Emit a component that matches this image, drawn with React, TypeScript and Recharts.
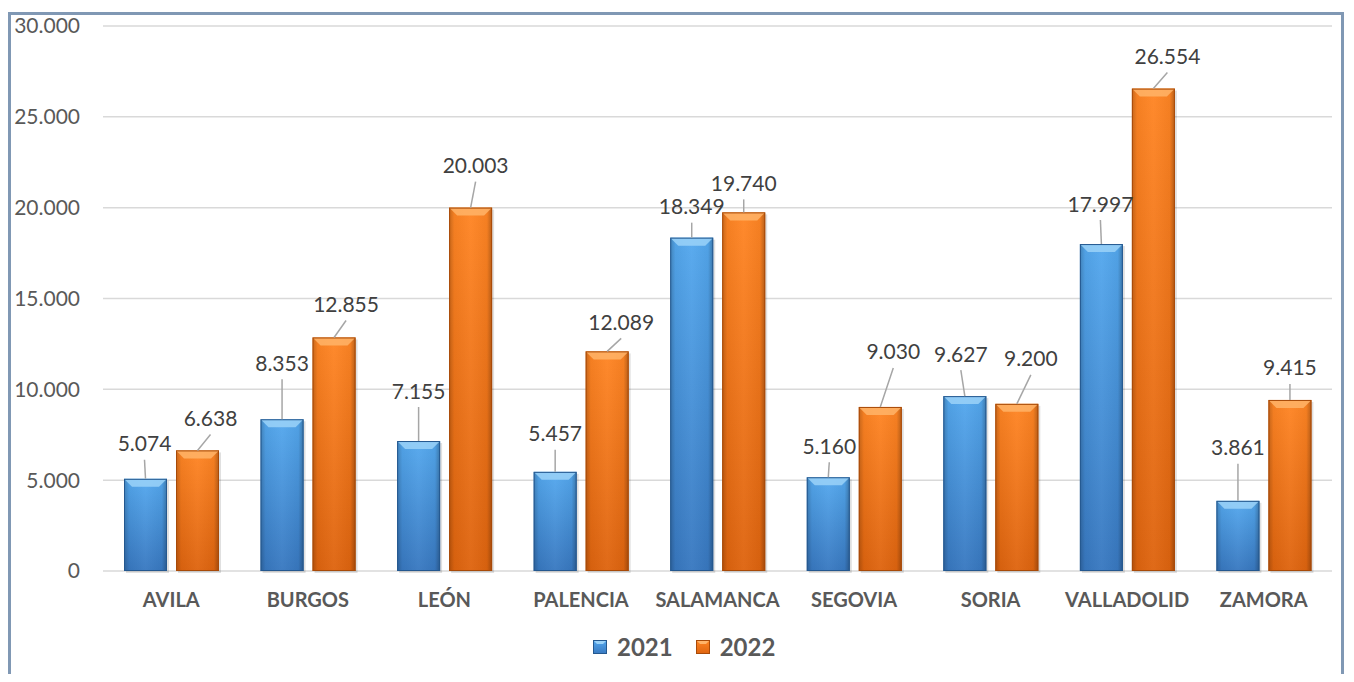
import { BarChart, Bar, XAxis, YAxis, CartesianGrid, LabelList } from "recharts";

const categories = ["AVILA", "BURGOS", "LEÓN", "PALENCIA", "SALAMANCA", "SEGOVIA", "SORIA", "VALLADOLID", "ZAMORA"];
const values2021 = [5074, 8353, 7155, 5457, 18349, 5160, 9627, 17997, 3861];
const values2022 = [6638, 12855, 20003, 12089, 19740, 9030, 9200, 26554, 9415];
const yTicks = [0, 5000, 10000, 15000, 20000, 25000, 30000];
const seriesNames = ["2021", "2022"];

// where Excel's dragged labels sit, relative to the top of each bar
const labelShift2021 = [[-1, -36], [0, -57], [0, -51], [0, -39], [0, -32], [1, -32], [-4, -43], [-1, -41], [0, -54]];
const labelShift2022 = [[13, -33], [12, -34], [5, -43], [14, -30], [0, -30], [13, -56], [14, -46], [14, -33], [0, -33]];

const data = categories.map((name, i) => ({
  name,
  v2021: values2021[i],
  v2022: values2022[i],
}));

const FONT = "Lato, 'Open Sans', sans-serif";

const fmt = (v: number) => String(v).replace(/\B(?=(\d{3})+(?!\d))/g, ".");

const palette: Record<string, { top: string; bottom: string; edge: string; bevel: string }> = {
  blue: { top: "#54a8ee", bottom: "#3878c0", edge: "#24588f", bevel: "#9bd2f8" },
  orange: { top: "#ff8524", bottom: "#de640f", edge: "#a84a08", bevel: "#ffb469" },
};

const BevelBar = (props: any) => {
  const { x, y, width, height, tone } = props;
  if (!height || height <= 0) return null;
  const c = palette[tone];
  const b = Math.min(8, height / 2);
  return (
    <g>
      <rect x={x + 2} y={y + 2} width={width} height={height} fill="#000" opacity={0.12} />
      <rect x={x} y={y} width={width} height={height} fill={`url(#v-${tone})`} />
      <rect x={x} y={y} width={width} height={height} fill="url(#edges)" />
      <polygon
        points={`${x},${y} ${x + width},${y} ${x + width - b},${y + b} ${x + b},${y + b}`}
        fill={c.bevel}
        opacity={0.85}
      />
      <rect x={x + 0.5} y={y + 0.5} width={width - 1} height={height - 1} fill="none" stroke={c.edge} strokeWidth={1} />
    </g>
  );
};

const makeLabel = (shifts: number[][]) => (props: any) => {
  const { x, y, width, value, index } = props;
  const bx = x + width / 2;
  const [dx, dy] = shifts[index];
  const tx = bx + dx;
  const ty = y + dy;
  return (
    <g>
      <line x1={tx} y1={ty + 17} x2={bx} y2={y} stroke="#a6a6a6" strokeWidth={1.5} />
      <text x={tx} y={ty} textAnchor="middle" dominantBaseline="central" fontFamily={FONT} fontSize={21} fill="#404040">
        {fmt(value)}
      </text>
    </g>
  );
};

const LegendSwatch = ({ tone }: { tone: string }) => {
  const c = palette[tone];
  return (
    <svg width={14} height={14} style={{ display: "block" }}>
      <defs>
        <linearGradient id={`lg-${tone}`} x1="0" y1="0" x2="0" y2="1">
          <stop offset="0" stopColor={c.top} />
          <stop offset="1" stopColor={c.bottom} />
        </linearGradient>
      </defs>
      <rect x={0} y={0} width={14} height={14} fill={`url(#lg-${tone})`} />
      <polygon points="0,0 14,0 10,4 4,4" fill={c.bevel} />
      <rect x={0.5} y={0.5} width={13} height={13} fill="none" stroke={c.edge} />
    </svg>
  );
};

export default function App() {
  return (
    <div style={{ position: "relative", width: 1338, height: 666, overflow: "hidden" }}>
      <style>{"html,body{overflow:hidden}"}</style>
      <div style={{ position: "absolute", left: 0, top: 0 }}>
        <BarChart
          width={1338}
          height={666}
          data={data}
          margin={{ top: 18, right: 14, left: 0, bottom: 0 }}
          barSize={43}
          barGap={9}
        >
          <defs>
            {Object.keys(palette).map((k) => (
              <linearGradient key={k} id={`v-${k}`} x1="0" y1="0" x2="0" y2="1">
                <stop offset="0" stopColor={palette[k].top} />
                <stop offset="1" stopColor={palette[k].bottom} />
              </linearGradient>
            ))}
            <linearGradient id="edges" x1="0" y1="0" x2="1" y2="0">
              <stop offset="0" stopColor="#000" stopOpacity={0.22} />
              <stop offset="0.12" stopColor="#000" stopOpacity={0.04} />
              <stop offset="0.5" stopColor="#fff" stopOpacity={0.04} />
              <stop offset="0.88" stopColor="#000" stopOpacity={0.04} />
              <stop offset="1" stopColor="#000" stopOpacity={0.28} />
            </linearGradient>
          </defs>
          <CartesianGrid vertical={false} stroke="#d9d9d9" strokeWidth={1.5} />
          <XAxis
            dataKey="name"
            axisLine={false}
            tickLine={false}
            tickSize={0}
            tickMargin={22}
            height={103}
            interval={0}
            tick={{ fontFamily: FONT, fontSize: 20, fontWeight: 700, fill: "#595959" }}
          />
          <YAxis
            domain={[0, 30000]}
            ticks={yTicks}
            axisLine={false}
            tickLine={false}
            tickSize={0}
            tickMargin={23}
            width={95}
            tickFormatter={(v) => fmt(v)}
            tick={{ fontFamily: FONT, fontSize: 21, fill: "#595959" }}
          />
          <Bar dataKey="v2021" name={seriesNames[0]} isAnimationActive={false} shape={(p: any) => <BevelBar {...p} tone="blue" />}>
            <LabelList dataKey="v2021" content={makeLabel(labelShift2021)} />
          </Bar>
          <Bar dataKey="v2022" name={seriesNames[1]} isAnimationActive={false} shape={(p: any) => <BevelBar {...p} tone="orange" />}>
            <LabelList dataKey="v2022" content={makeLabel(labelShift2022)} />
          </Bar>
        </BarChart>
      </div>
      <div
        style={{
          position: "absolute",
          left: 0,
          top: 4,
          width: 1336,
          height: 700,
          border: "3px solid #8098b4",
          boxSizing: "border-box",
          pointerEvents: "none",
          zIndex: 2,
        }}
      />
      <div
        style={{
          position: "absolute",
          left: 585,
          top: 624,
          display: "flex",
          alignItems: "center",
          gap: 10,
          fontFamily: FONT,
          fontWeight: 700,
          fontSize: 24,
          color: "#595959",
        }}
      >
        <LegendSwatch tone="blue" />
        <span style={{ marginRight: 13 }}>{seriesNames[0]}</span>
        <LegendSwatch tone="orange" />
        <span>{seriesNames[1]}</span>
      </div>
    </div>
  );
}
